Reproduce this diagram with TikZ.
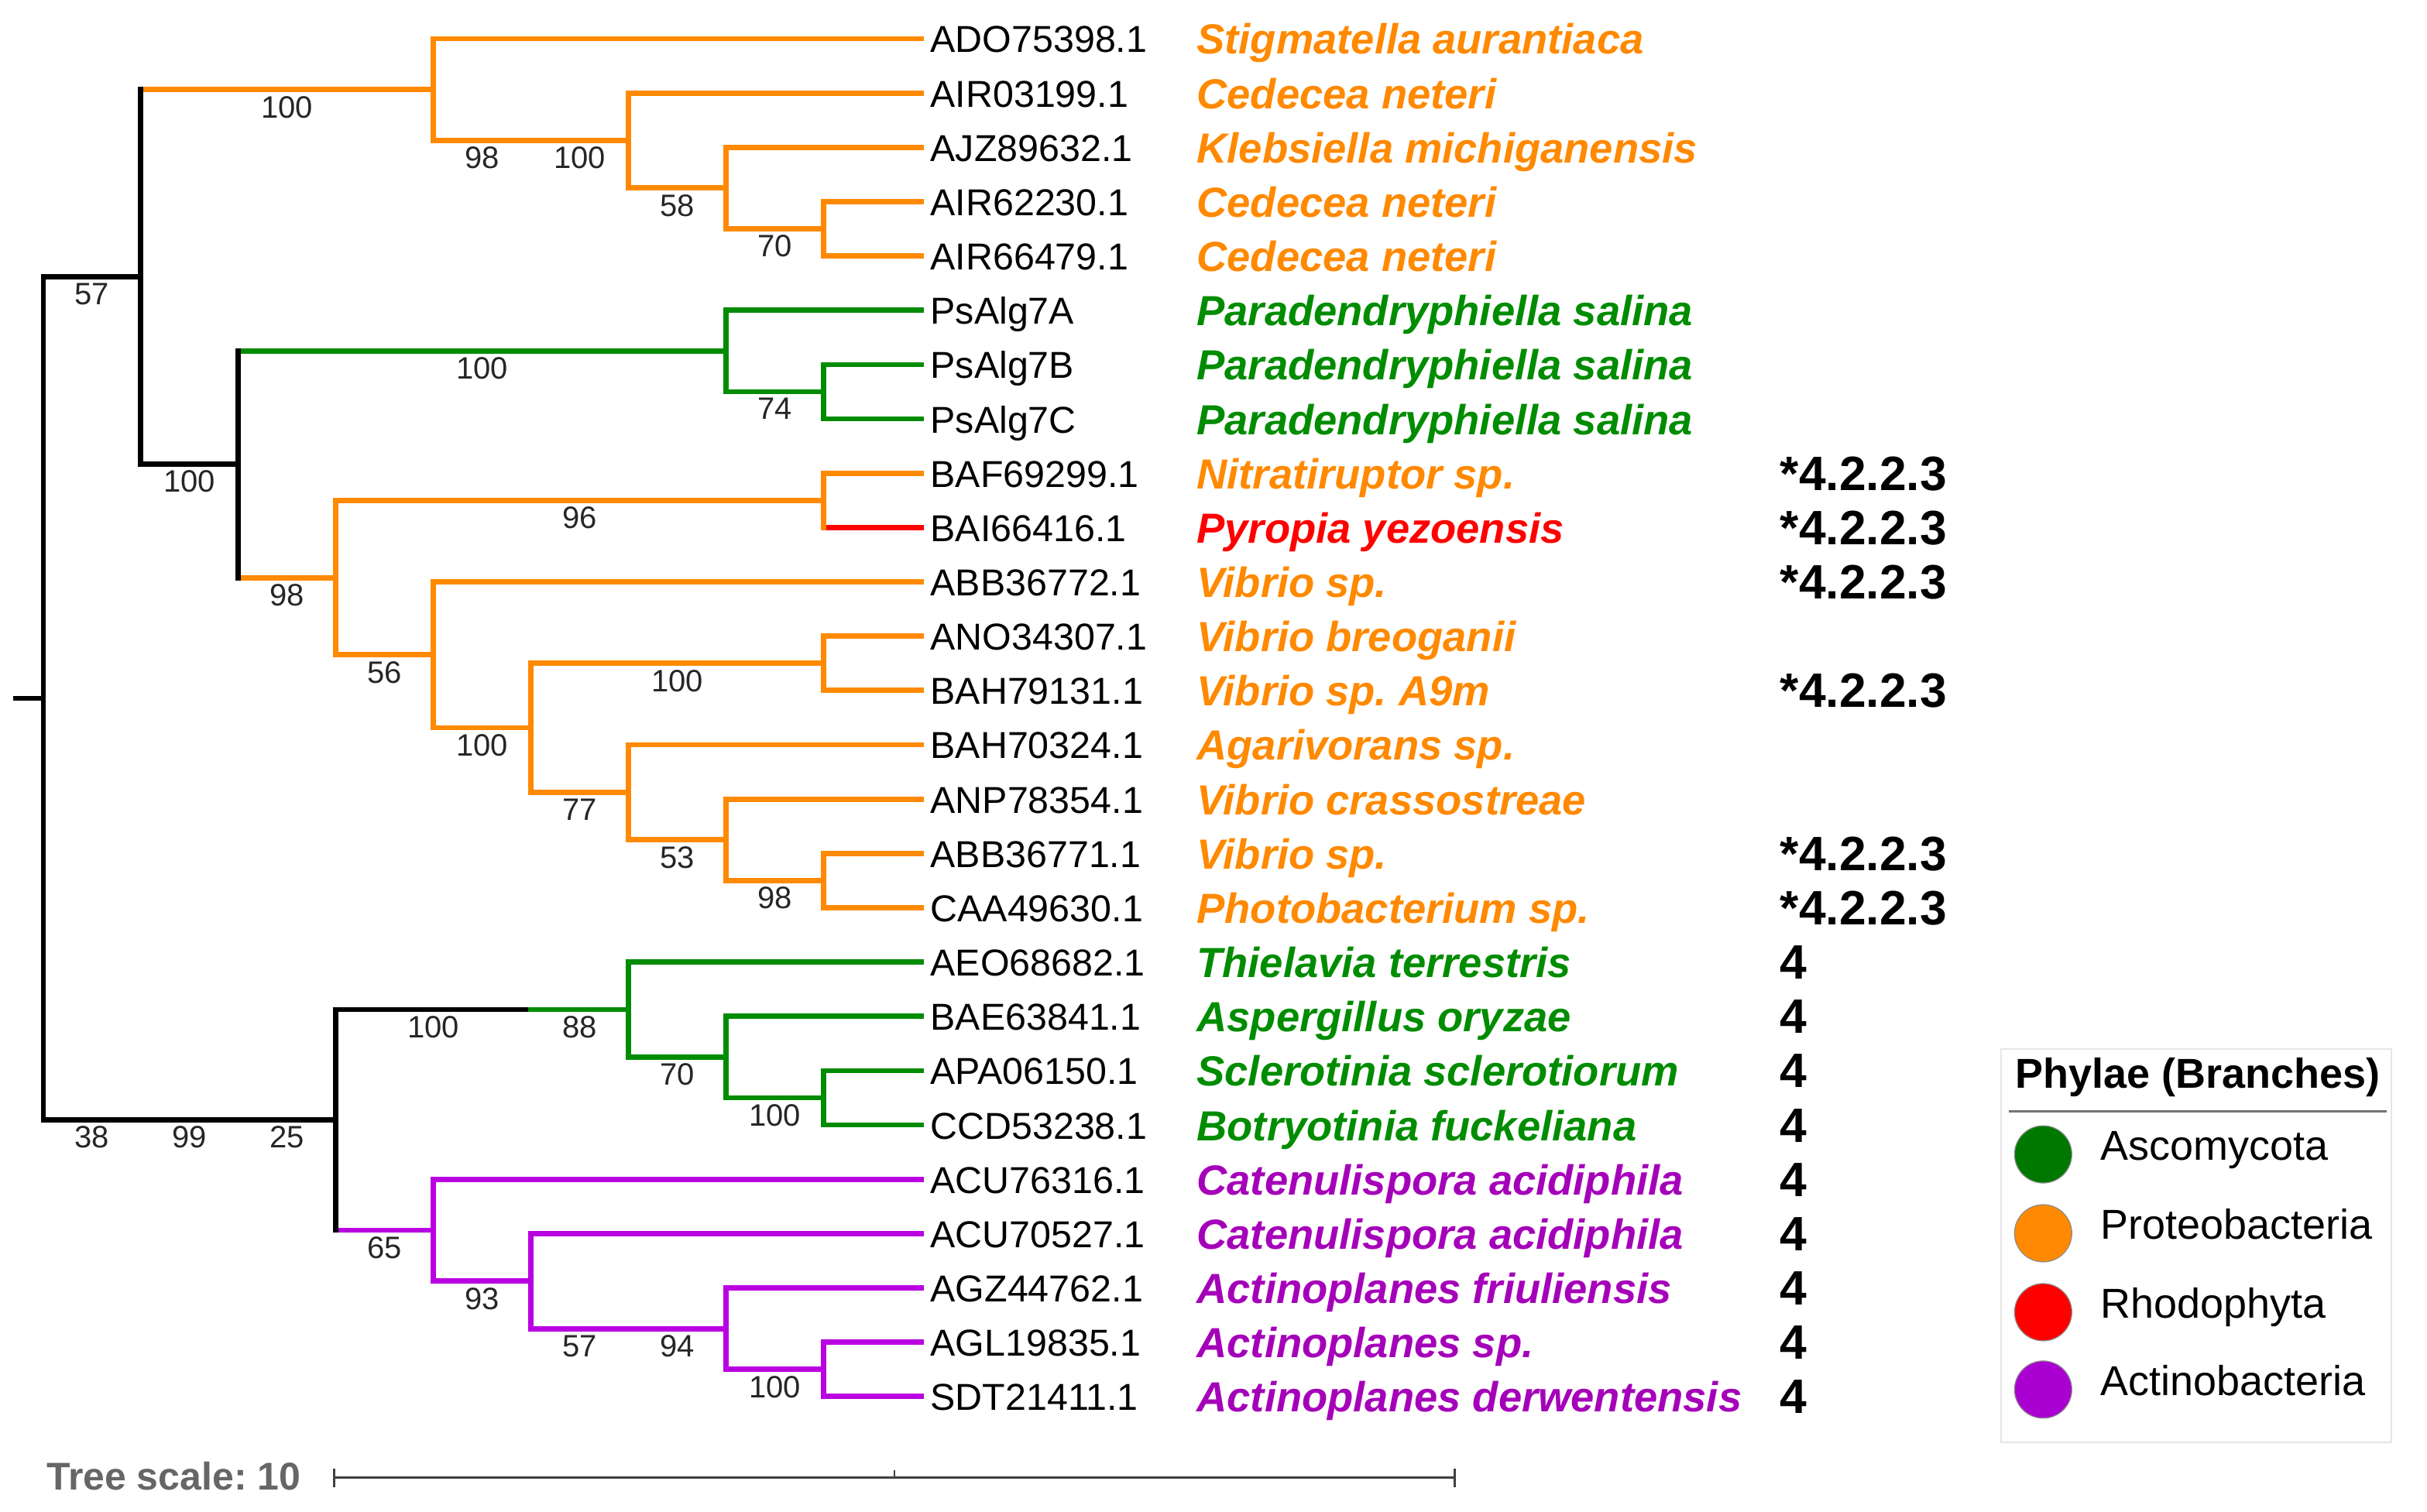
\documentclass[tikz,border=0pt]{standalone}
\usepackage{fontspec}
\setmainfont{Liberation Sans}
\usetikzlibrary{positioning}
\frenchspacing

\definecolor{pro}{RGB}{255,137,0}
\definecolor{asc}{RGB}{0,140,0}
\definecolor{rho}{RGB}{255,0,0}
\definecolor{act}{RGB}{185,0,225}
\definecolor{acttxt}{RGB}{165,0,185}
\definecolor{ascdot}{RGB}{0,120,0}
\definecolor{actdot}{RGB}{170,0,210}

\tikzset{
  br/.style={line width=3.4pt, line cap=rect},
  bs/.style={below, inner sep=2.5pt, font=\fontsize{20}{22}\selectfont, text=black!85},
  acc/.style={anchor=base west, inner sep=0pt, font=\fontsize{24.2}{28}\selectfont},
  spec/.style={anchor=base west, inner sep=0pt, font=\fontsize{27.2}{30}\selectfont\bfseries\itshape},
  ecnum/.style={anchor=base west, inner sep=0pt, font=\fontsize{31.2}{34}\selectfont\bfseries},
  legdot/.style={circle, minimum size=37pt, inner sep=0pt, draw=black!45, line width=0.6pt},
  legtxt/.style={inner sep=0pt, text height=0.72em, text depth=0pt, font=\fontsize{27}{30}\selectfont}
}

\begin{document}
\begin{tikzpicture}[x=1pt,y=1pt,yscale=-1]
\useasboundingbox (0,0) rectangle (1568,977);

% leaves with accession, species
\foreach \acc/\sp/\col [count=\i from 0] in {
  ADO75398.1/Stigmatella aurantiaca/pro,
  AIR03199.1/Cedecea neteri/pro,
  AJZ89632.1/Klebsiella michiganensis/pro,
  AIR62230.1/Cedecea neteri/pro,
  AIR66479.1/Cedecea neteri/pro,
  PsAlg7A/Paradendryphiella salina/asc,
  PsAlg7B/Paradendryphiella salina/asc,
  PsAlg7C/Paradendryphiella salina/asc,
  BAF69299.1/Nitratiruptor sp./pro,
  BAI66416.1/Pyropia yezoensis/rho,
  ABB36772.1/Vibrio sp./pro,
  ANO34307.1/Vibrio breoganii/pro,
  BAH79131.1/Vibrio sp. A9m/pro,
  BAH70324.1/Agarivorans sp./pro,
  ANP78354.1/Vibrio crassostreae/pro,
  ABB36771.1/Vibrio sp./pro,
  CAA49630.1/Photobacterium sp./pro,
  AEO68682.1/Thielavia terrestris/asc,
  BAE63841.1/Aspergillus oryzae/asc,
  APA06150.1/Sclerotinia sclerotiorum/asc,
  CCD53238.1/Botryotinia fuckeliana/asc,
  ACU76316.1/Catenulispora acidiphila/acttxt,
  ACU70527.1/Catenulispora acidiphila/acttxt,
  AGZ44762.1/Actinoplanes friuliensis/acttxt,
  AGL19835.1/Actinoplanes sp./acttxt,
  SDT21411.1/Actinoplanes derwentensis/acttxt}
{
  \coordinate (t\i) at (595,{25+35.1*\i});
  \node[acc] (a\i) at (601,{34+35.1*\i}) {\acc};
  \node[spec, text=\col] (s\i) at (773,{35+35.1*\i}) {\sp};
}

% EC numbers
\foreach \i in {8,9,10,12,15,16}
  \node[ecnum] (e\i) at (1150,{36+35.1*\i}) {*4.2.2.3};
\foreach \i in {17,...,25}
  \node[ecnum] (e\i) at (1150,{36+35.1*\i}) {4};

% internal nodes
\coordinate (stub) at (10,451.3);
\coordinate (root) at (28,451.3);
\coordinate (nA) at (91,179.0);
\coordinate (nC) at (280,57.9);
\coordinate (nCE) at (343,90.8);
\coordinate (nE) at (406,90.8);
\coordinate (nF) at (469,121.5);
\coordinate (nG) at (532,147.85);
\coordinate (nD) at (154,300.0);
\coordinate (nP) at (469,226.8);
\coordinate (nQ) at (532,253.15);
\coordinate (nR) at (217,373.3);
\coordinate (nS) at (532,323.35);
\coordinate (nT) at (280,423.2);
\coordinate (nU) at (343,470.3);
\coordinate (nV) at (532,428.65);
\coordinate (nW) at (406,512.0);
\coordinate (nX) at (469,542.7);
\coordinate (nY) at (532,569.05);
\coordinate (nK1) at (91,723.7);
\coordinate (nK2) at (154,723.7);
\coordinate (nK) at (217,723.7);
\coordinate (nHK) at (343,652.4);
\coordinate (nH) at (406,652.4);
\coordinate (nI) at (469,683.1);
\coordinate (nJ) at (532,709.45);
\coordinate (nL) at (280,795.0);
\coordinate (nM) at (343,827.9);
\coordinate (nMN) at (406,858.6);
\coordinate (nN) at (469,858.6);
\coordinate (nO) at (532,884.95);

% horizontal branches, upper part
\draw[br] (stub) -- (root);
\draw[br] (root |- nA) -- node[bs] {57} (nA);
\draw[br,pro] (nA |- nC) -- node[bs] {100} (nC);
\draw[br] (nA |- nD) -- node[bs] {100} (nD);
\draw[br,pro] (nC |- t0) -- (t0);
\draw[br,pro] (nC |- nE) -- node[bs] {98} (nCE) -- node[bs] {100} (nE);
\draw[br,pro] (nE |- t1) -- (t1);
\draw[br,pro] (nE |- nF) -- node[bs] {58} (nF);
\draw[br,pro] (nF |- t2) -- (t2);
\draw[br,pro] (nF |- nG) -- node[bs] {70} (nG);
\draw[br,pro] (nG |- t3) -- (t3);
\draw[br,pro] (nG |- t4) -- (t4);
\draw[br,asc] (nD |- nP) -- node[bs] {100} (nP);
\draw[br,asc] (nP |- t5) -- (t5);
\draw[br,asc] (nP |- nQ) -- node[bs] {74} (nQ);
\draw[br,asc] (nQ |- t6) -- (t6);
\draw[br,asc] (nQ |- t7) -- (t7);
\draw[br,pro] (nD |- nR) -- node[bs] {98} (nR);
\draw[br,pro] (nR |- nS) -- node[bs] {96} (nS);
\draw[br,pro] (nS |- t8) -- (t8);
\draw[br,rho] (nS |- t9) -- (t9);
\draw[br,pro] (nR |- nT) -- node[bs] {56} (nT);
\draw[br,pro] (nT |- t10) -- (t10);
\draw[br,pro] (nT |- nU) -- node[bs] {100} (nU);
\draw[br,pro] (nU |- nV) -- node[bs] {100} (nV);
\draw[br,pro] (nV |- t11) -- (t11);
\draw[br,pro] (nV |- t12) -- (t12);
\draw[br,pro] (nU |- nW) -- node[bs] {77} (nW);
\draw[br,pro] (nW |- t13) -- (t13);
\draw[br,pro] (nW |- nX) -- node[bs] {53} (nX);
\draw[br,pro] (nX |- t14) -- (t14);
\draw[br,pro] (nX |- nY) -- node[bs] {98} (nY);
\draw[br,pro] (nY |- t15) -- (t15);
\draw[br,pro] (nY |- t16) -- (t16);

% horizontal branches, lower part
\draw[br] (root |- nK) -- node[bs] {38} (nK1) -- node[bs] {99} (nK2) -- node[bs] {25} (nK);
\draw[br] (nK |- nH) -- node[bs] {100} (nHK);
\draw[br,asc] (nHK) -- node[bs] {88} (nH);
\draw[br,asc] (nH |- t17) -- (t17);
\draw[br,asc] (nH |- nI) -- node[bs] {70} (nI);
\draw[br,asc] (nI |- t18) -- (t18);
\draw[br,asc] (nI |- nJ) -- node[bs] {100} (nJ);
\draw[br,asc] (nJ |- t19) -- (t19);
\draw[br,asc] (nJ |- t20) -- (t20);
\draw[br,act] (nK |- nL) -- node[bs] {65} (nL);
\draw[br,act] (nL |- t21) -- (t21);
\draw[br,act] (nL |- nM) -- node[bs] {93} (nM);
\draw[br,act] (nM |- t22) -- (t22);
\draw[br,act] (nM |- nN) -- node[bs] {57} (nMN) -- node[bs] {94} (nN);
\draw[br,act] (nN |- t23) -- (t23);
\draw[br,act] (nN |- nO) -- node[bs] {100} (nO);
\draw[br,act] (nO |- t24) -- (t24);
\draw[br,act] (nO |- t25) -- (t25);

% vertical branches
\draw[br] (root |- nA) -- (root |- nK);
\draw[br] (nA |- nC) -- (nA |- nD);
\draw[br,pro] (nC |- t0) -- (nC |- nE);
\draw[br,pro] (nE |- t1) -- (nE |- nF);
\draw[br,pro] (nF |- t2) -- (nF |- nG);
\draw[br,pro] (nG |- t3) -- (nG |- t4);
\draw[br] (nD |- nP) -- (nD |- nR);
\draw[br,asc] (nP |- t5) -- (nP |- nQ);
\draw[br,asc] (nQ |- t6) -- (nQ |- t7);
\draw[br,pro] (nR |- nS) -- (nR |- nT);
\draw[br,pro] (nS |- t8) -- (nS |- t9);
\draw[br,pro] (nT |- t10) -- (nT |- nU);
\draw[br,pro] (nU |- nV) -- (nU |- nW);
\draw[br,pro] (nV |- t11) -- (nV |- t12);
\draw[br,pro] (nW |- t13) -- (nW |- nX);
\draw[br,pro] (nX |- t14) -- (nX |- nY);
\draw[br,pro] (nY |- t15) -- (nY |- t16);
\draw[br] (nK |- nH) -- (nK |- nL);
\draw[br,asc] (nH |- t17) -- (nH |- nI);
\draw[br,asc] (nI |- t18) -- (nI |- nJ);
\draw[br,asc] (nJ |- t19) -- (nJ |- t20);
\draw[br,act] (nL |- t21) -- (nL |- nM);
\draw[br,act] (nM |- t22) -- (nM |- nN);
\draw[br,act] (nN |- t23) -- (nN |- nO);
\draw[br,act] (nO |- t24) -- (nO |- t25);

% tree scale
\coordinate (sb0) at (216,955);
\coordinate (sbm) at (578,955);
\coordinate (sb1) at (940,955);
\node[anchor=base west, inner sep=0pt, text=black!60, font=\fontsize{25}{28}\selectfont\bfseries] (tscale) at (30,963) {Tree scale: 10};
\draw[line width=1.5pt, black!75] (sb0) -- (sb1);
\draw[line width=1.5pt, black!75] ([yshift=-6pt]sb0) -- ([yshift=6pt]sb0);
\draw[line width=1.5pt, black!75] ([yshift=-6pt]sb1) -- ([yshift=6pt]sb1);
\draw[line width=1pt, black!75] ([yshift=-5pt]sbm) -- (sbm);

% legend
\draw[black!10, line width=1pt] (1293,678) rectangle (1545,932);
\node[inner sep=0pt, font=\fontsize{27}{30}\selectfont\bfseries] (ltitle) at (1420,696) {Phylae (Branches)};
\draw[black!55, line width=1.5pt] (1298,718) -- (1542,718);
\node[legdot, fill=ascdot] (d1) at (1320,746) {};
\node[legdot, fill=pro] (d2) at (1320,797) {};
\node[legdot, fill=rho] (d3) at (1320,848) {};
\node[legdot, fill=actdot] (d4) at (1320,898) {};
\node[legtxt, right=18pt of d1] (g1) {Ascomycota};
\node[legtxt, right=18pt of d2] (g2) {Proteobacteria};
\node[legtxt, right=18pt of d3] (g3) {Rhodophyta};
\node[legtxt, right=18pt of d4] (g4) {Actinobacteria};

\end{tikzpicture}
\end{document}
